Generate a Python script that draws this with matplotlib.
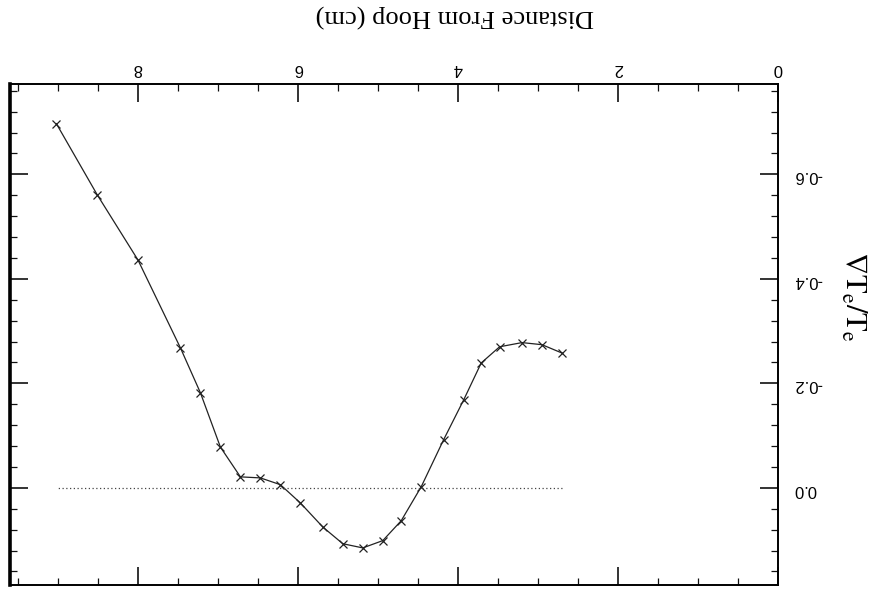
import matplotlib
matplotlib.use("Agg")
import matplotlib.pyplot as plt
from matplotlib.ticker import MultipleLocator, FormatStrFormatter

plt.rcParams['axes.unicode_minus'] = False
plt.rcParams['mathtext.fontset'] = 'stix'

# Data (distance from hoop in cm, normalized temperature gradient)
distance = [9.02, 8.51, 8.00, 7.47, 7.22, 6.97, 6.72, 6.47, 6.22, 5.97,
            5.69, 5.44, 5.19, 4.94, 4.71, 4.46, 4.18, 3.93, 3.71, 3.48,
            3.20, 2.95, 2.70]
grad_te = [-0.697, -0.561, -0.436, -0.268, -0.182, -0.078, -0.021, -0.019,
           -0.006, 0.029, 0.075, 0.107, 0.115, 0.101, 0.063, -0.002,
           -0.092, -0.168, -0.239, -0.270, -0.278, -0.274, -0.258]
x_ticks = [0, 2, 4, 6, 8]
y_ticks = [0.0, -0.2, -0.4, -0.6]

fig = plt.figure(figsize=(8.75, 6.05), dpi=100)
ax = fig.add_axes([10/875, 20/605, 768/875, 501/605])

ax.plot(distance, grad_te, color='#222222', lw=0.9, marker='x',
        markersize=5.5, markeredgewidth=0.9)
ax.hlines(0.0, min(distance), max(distance), colors='#444444',
          linestyles=(0, (1, 2)), lw=0.9)

ax.set_xlim(0, 9.6)
ax.set_ylim(-0.773, 0.186)
ax.invert_xaxis()
ax.invert_yaxis()

ax.set_xticks(x_ticks)
ax.set_yticks(y_ticks)
ax.xaxis.set_minor_locator(MultipleLocator(0.5))
ax.yaxis.set_minor_locator(MultipleLocator(0.04))
ax.xaxis.set_major_formatter(FormatStrFormatter('%d'))
ax.yaxis.set_major_formatter(FormatStrFormatter('%.1f'))

ax.tick_params(which='both', direction='in', top=True, bottom=True,
               left=True, right=True, labeltop=True, labelbottom=False,
               labelright=True, labelleft=False, color='#111111')
ax.tick_params(which='major', length=13, width=1.2, labelsize=12, pad=6)
ax.tick_params(which='minor', length=5, width=0.9)
ax.tick_params(axis='y', which='major', pad=11)

for lab in ax.get_xticklabels() + ax.get_yticklabels():
    lab.set_rotation(180)
    lab.set_fontfamily('Liberation Sans')

for side in ['top', 'right', 'bottom']:
    ax.spines[side].set_linewidth(1.4)
ax.spines['left'].set_linewidth(2.6)

ax.xaxis.set_label_position('top')
ax.set_xlabel('Distance From Hoop (cm)', fontsize=19, family='Liberation Serif',
              rotation=180)
ax.xaxis.set_label_coords(0.579, 1.124)

ax.yaxis.set_label_position('right')
ax.set_ylabel(r'$\nabla\mathrm{T}_\mathrm{e}/\mathrm{T}_\mathrm{e}$',
              fontsize=22, rotation=270)
ax.yaxis.set_label_coords(1.118, 0.575)

fig.savefig('out.png', dpi=100, facecolor='white')
